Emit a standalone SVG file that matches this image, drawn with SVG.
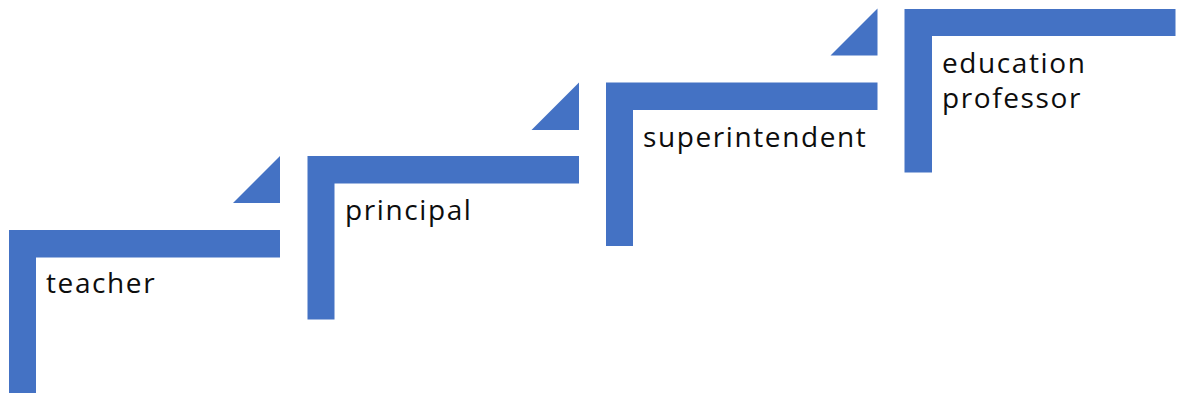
<svg xmlns="http://www.w3.org/2000/svg" width="1177" height="393" viewBox="0 0 1177 393">
<style>
.bar{fill:#4472C4}
.lbl{font-family:"Open Sans","Noto Sans","Liberation Sans",sans-serif;font-weight:400;font-size:28px;letter-spacing:1.6px;fill:#0d0d0d}
</style>
<rect width="1177" height="393" fill="#fff"/>
<g id="step-teacher">
<path class="bar" d="M9,230 H280 V257.5 H36 V393 H9 Z"/>
<path class="bar" d="M280,156 V203 H233 Z"/>
<text class="lbl" x="46" y="293">teacher</text>
</g>
<g id="step-principal">
<path class="bar" d="M307.5,156 H579 V183.5 H334.5 V319.5 H307.5 Z"/>
<path class="bar" d="M579,82.5 V130 H531.5 Z"/>
<text class="lbl" x="345" y="220">principal</text>
</g>
<g id="step-superintendent">
<path class="bar" d="M606,82.5 H877.5 V110 H633 V246 H606 Z"/>
<path class="bar" d="M877.5,8.5 V55.5 H830.5 Z"/>
<text class="lbl" x="643" y="146.5">superintendent</text>
</g>
<g id="step-education-professor">
<path class="bar" d="M904.5,9 H1175.5 V36 H932 V172.5 H904.5 Z"/>
<text class="lbl" x="942" y="73">education</text>
<text class="lbl" x="942" y="108">professor</text>
</g>
<g id="connectors"/>
</svg>
